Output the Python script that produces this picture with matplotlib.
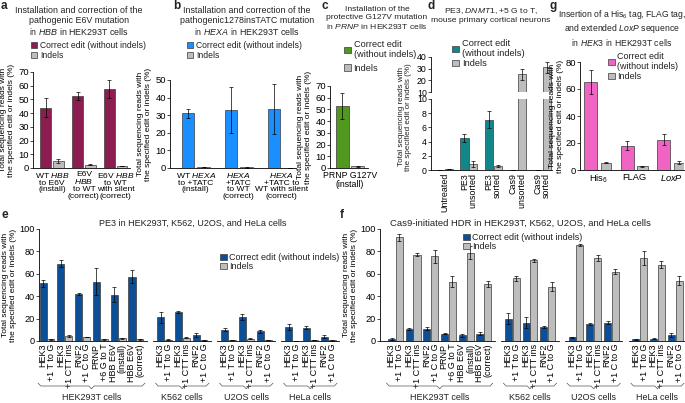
import numpy as np
import matplotlib
matplotlib.use("Agg")
import matplotlib.pyplot as plt
from matplotlib.patches import Patch

plt.rcParams["font.family"] = ["Liberation Sans", "DejaVu Sans"]
plt.rcParams["font.size"] = 6
plt.rcParams["mathtext.fontset"] = "custom"
plt.rcParams["mathtext.rm"] = "Liberation Sans"
plt.rcParams["mathtext.it"] = "Liberation Sans:italic"
plt.rcParams["mathtext.bf"] = "Liberation Sans:bold"
plt.rcParams["text.color"] = "#222222"
plt.rcParams["axes.linewidth"] = 0.6

W, H = 685, 403
GREY = "#bdbdbd"
EDGE = "#3a3a3a"
YLABEL = "Total sequencing reads with\nthe specified edit or indels (%)"

# ---- data ----
a_labels = ["WT $\\it{HBB}$\nto E6V\n(install)", "E6V\n$\\it{HBB}$\nto WT\n(correct)",
            "E6V $\\it{HBB}$\nto WT\nwith silent\n(correct)"]
a_edit = [44, 52.5, 57.5]
a_edit_err = [7, 3, 6.5]
a_indel = [5, 2.3, 1.4]
a_indel_err = [1.5, 0.4, 0.3]

b_labels = ["WT $\\it{HEXA}$\nto +TATC\n(install)", "$\\it{HEXA}$\n+TATC\nto WT\n(correct)",
            "$\\it{HEXA}$\n+TATC to\nWT with silent\n(correct)"]
b_edit = [31, 33, 33.5]
b_edit_err = [2.5, 13, 14]
b_indel = [0.7, 0.3, 0.1]
b_indel_err = [0.1, 0.1, 0.05]

c_labels = ["PRNP G127V\n(install)"]
c_edit = [53]
c_edit_err = [11]
c_indel = [1.5]
c_indel_err = [0.5]

d_labels = ["Untreated", "PE3\nunsorted", "PE3\nsorted", "Cas9\nunsorted", "Cas9\nsorted"]
d_edit = [0, 4.5, 7.1, 0, 0]
d_edit_err = [0, 0.6, 1.2, 0, 0]
d_indel = [0.15, 0.8, 0.55, 25, 31]
d_indel_err = [0.05, 0.4, 0.1, 5, 5]

g_labels = ["His$_6$", "FLAG", "$\\it{LoxP}$"]
g_edit = [65, 18, 22.5]
g_edit_err = [9, 3.5, 4]
g_indel = [5.5, 2.7, 5.5]
g_indel_err = [0.5, 0.4, 1.2]

groups = ["HEK293T cells", "K562 cells", "U2OS cells", "HeLa cells"]
hek_sites = ["HEK3\n+1 T to G", "HEK3\n+1 CTT ins", "RNF2\n+1 C to G", "PRNP\n+6 G to T",
             "HBB E6V\n(install)", "HBB E6V\n(correct)"]
other_sites = ["HEK3\n+1 T to G", "HEK3\n+1 CTT ins", "RNF2\n+1 C to G"]

e_edit = [[51.5, 69, 42, 53, 41.5, 57.5], [21, 26, 5.5], [10, 21.5, 8.5], [12.5, 12, 4]]
e_edit_err = [[3, 3, 0.5, 12, 7, 6], [5, 1, 1.5], [1.5, 2.5, 1.5], [3, 1, 1]]
e_indel = [[1.5, 4.5, 3.7, 1.5, 2.5, 1.5], [1.2, 3, 0.6], [0.8, 2, 0.8], [0.3, 0.8, 0.5]]
e_indel_err = [[0.3, 1, 0.3, 0.5, 0.5, 0.3], [0.2, 0.5, 0.2], [0.2, 0.4, 0.2], [0.1, 0.2, 0.1]]

f_edit = [[1.5, 11, 11, 6.5, 5, 6.5], [20, 16.5, 12.5], [3.5, 15, 16.5], [1.5, 2, 5.5]]
f_edit_err = [[0.8, 1, 1.5, 0.5, 1.5, 1.5], [5, 5, 1], [0.5, 1, 1.5], [0.3, 0.5, 2]]
f_indel = [[92.5, 77, 75.5, 53, 79, 51], [56, 72, 48.5], [85.5, 74, 62], [74, 68, 54]]
f_indel_err = [[3, 1.5, 5.5, 5, 6, 2.5], [2, 1.5, 4], [1, 3, 2], [6, 3, 4]]

fig = plt.figure(figsize=(6.85, 4.03), dpi=100)


def add_ax(l, t, r, b, tick_fs=6.8):
    ax = fig.add_axes([l / W, 1 - b / H, (r - l) / W, (b - t) / H])
    ax.spines["top"].set_visible(False)
    ax.spines["right"].set_visible(False)
    ax.tick_params(axis="y", length=2, width=0.5, pad=1, labelsize=tick_fs)
    ax.tick_params(axis="x", length=0, pad=2)
    return ax


def pair_bars(ax, x, edit, edit_err, indel, indel_err, color, w, off, w2=None):
    x = np.asarray(x, dtype=float)
    w2 = w if w2 is None else w2
    ax.bar(x - off, edit, w, color=color, edgecolor=EDGE, lw=0.5, zorder=2)
    ax.bar(x + off, indel, w2, color=GREY, edgecolor=EDGE, lw=0.5, zorder=2)
    ax.errorbar(x - off, edit, yerr=edit_err, fmt="none", ecolor="k",
                elinewidth=0.5, capsize=1.2, capthick=0.5, zorder=3)
    ax.errorbar(x + off, indel, yerr=indel_err, fmt="none", ecolor="k",
                elinewidth=0.5, capsize=1.2, capthick=0.5, zorder=3)


def legend(x, y, color, label, fs=6.2, gap=0.15):
    handles = [Patch(facecolor=color, edgecolor=EDGE, lw=0.5),
               Patch(facecolor=GREY, edgecolor=EDGE, lw=0.5)]
    fig.legend(handles, [label, "Indels"], loc="upper left",
               bbox_to_anchor=(x / W, 1 - y / H), frameon=False, fontsize=fs,
               handlelength=0.75, handleheight=0.75, handletextpad=0.3,
               labelspacing=gap, borderpad=0, borderaxespad=0)


def title(x, y, s, fs=6.4):
    fig.text(x / W, 1 - y / H, s, ha="center", va="top", fontsize=fs, linespacing=1.15)


def letter(x, y, s):
    fig.text(x / W, 1 - y / H, s, ha="left", va="top", fontsize=8.5, fontweight="bold")


# ---- a ----
ax = add_ax(33, 72, 130, 168)
xa = np.arange(len(a_edit))
pair_bars(ax, xa, a_edit, a_edit_err, a_indel, a_indel_err, "#8c1d50", 0.34, 0.2)
ax.set_xlim(-0.6, 2.45)
ax.set_ylim(0, 70)
ax.set_yticks(range(0, 71, 10))
ax.set_xticks(xa)
ax.set_xticklabels(a_labels, linespacing=0.95, fontsize=6.1)
ax.set_ylabel(YLABEL, fontsize=6, labelpad=2)
letter(1, 0, "a")
title(79, 6, "Installation and correction of the\npathogenic E6V mutation\nin $\\it{HBB}$ in HEK293T cells")
legend(31, 41, "#8c1d50", "Correct edit (without indels)")

# ---- b ----
ax = add_ax(170, 80, 296, 168)
xb = np.arange(len(b_edit))
pair_bars(ax, xb, b_edit, b_edit_err, b_indel, b_indel_err, "#1a8fff", 0.29, 0.18)
ax.set_xlim(-0.6, 2.33)
ax.set_ylim(0, 50)
ax.set_yticks(range(0, 51, 10))
ax.set_xticks(xb)
ax.set_xticklabels(b_labels, linespacing=0.95, fontsize=6.1)
ax.set_ylabel(YLABEL, fontsize=6, labelpad=2)
letter(173, 0, "b")
title(247, 6, "Installation and correction of the\npathogenic1278insTATC mutation\nin $\\it{HEXA}$ in HEK293T cells")
legend(187, 41, "#1a8fff", "Correct edit (without indels)")

# ---- c ----
ax = add_ax(330, 86, 368, 168)
xc = np.arange(len(c_edit))
pair_bars(ax, xc, c_edit, c_edit_err, c_indel, c_indel_err, "#4f9a1e", 0.36, 0.21)
ax.set_xlim(-0.55, 0.5)
ax.set_ylim(0, 70)
ax.set_yticks(range(0, 71, 10))
ax.set_xticks(xc)
ax.set_xticklabels(c_labels, linespacing=1.05, fontsize=6.3)
ax.set_ylabel(YLABEL, fontsize=6, labelpad=2)
letter(322, 0, "c")
title(377, 6, "Installation of the\nprotective G127V mutation\nin $\\it{PRNP}$ in HEK293T cells", fs=6.1)
legend(344, 40, "#4f9a1e", "Correct edit\n(without indels)", fs=6.6, gap=0.45)

# ---- d (broken axis) ----
xd = np.arange(len(d_edit))
ax_up = add_ax(431, 57, 552, 92, tick_fs=6.3)
ax_lo = add_ax(431, 99, 552, 170, tick_fs=6.3)
for axd in (ax_up, ax_lo):
    pair_bars(axd, xd, d_edit, d_edit_err, d_indel, d_indel_err, "#12878a", 0.33, 0.18)
    axd.set_xlim(-0.55, 4.4)
ax_up.set_ylim(10, 40)
ax_up.set_yticks([10, 20, 30, 40])
ax_up.spines["bottom"].set_visible(False)
ax_up.set_xticks([])
ax_lo.set_ylim(0, 10)
ax_lo.set_yticks(range(0, 11, 2))
ax_lo.set_xticks(xd)
ax_lo.set_xticklabels(d_labels, rotation=90, ha="center", va="top",
                      multialignment="right", linespacing=0.95, fontsize=6.4)
fig.text(405 / W, 1 - 117 / H, YLABEL, rotation=90, ha="center", va="center",
         fontsize=5.8, multialignment="center", linespacing=1.1)
letter(427, 0, "d")
title(491, 6, "PE3, $\\it{DNMT1}$, +5 G to T,\nmouse primary cortical neurons", fs=6.1)
legend(452, 39, "#12878a", "Correct edit\n(without indels)", fs=6.7, gap=0.1)

# ---- g ----
ax = add_ax(580, 62, 684, 170, tick_fs=6.8)
xg = np.arange(len(g_edit))
pair_bars(ax, xg, g_edit, g_edit_err, g_indel, g_indel_err, "#f064c4", 0.36, 0.21, w2=0.28)
ax.set_xlim(-0.5, 2.35)
ax.set_ylim(0, 80)
ax.set_yticks(range(0, 81, 20))
ax.set_xticks(xg)
ax.set_xticklabels(g_labels, fontsize=6.7)
ax.set_ylabel(YLABEL, fontsize=6, labelpad=1)
letter(550, 0, "g")
title(622, 8, "Insertion of a His$_6$ tag, FLAG tag,\nand extended $\\it{LoxP}$ sequence\nin $\\it{HEK3}$ in HEK293T cells", fs=6.2)
legend(608, 52, "#f064c4", "Correct edit\n(without indels)", fs=6.5, gap=0.1)


# ---- e and f ----
def cell_panel(l, r, xleft, edit, edit_err, indel, indel_err):
    ax = add_ax(l, 229, r, 341, tick_fs=6.6)
    ax.spines["bottom"].set_visible(False)
    starts = [0, 6.6, 10.2, 13.8]
    ticks, labels = [], []
    yb = (341 - 386) / 112
    for gi, name in enumerate(groups):
        n = len(edit[gi])
        pos = starts[gi] + np.arange(n)
        pair_bars(ax, pos, edit[gi], edit_err[gi], indel[gi], indel_err[gi],
                  "#0d4f96", 0.4, 0.22)
        ticks += list(pos)
        labels += hek_sites if n == 6 else other_sites
        x0 = xleft if gi == 0 else pos[0] - 0.62
        ax.plot([x0, pos[-1] + 0.62], [0, 0], color="k", lw=0.6, clip_on=False, zorder=4)
        # curly brace under the group
        b0, b1 = pos[0] - 0.5, pos[-1] + 0.5
        bm = (b0 + b1) / 2
        ax.plot([b0, b0 + 0.15, bm - 0.15, bm, bm + 0.15, b1 - 0.15, b1],
                [yb + 0.025, yb, yb, yb - 0.025, yb, yb, yb + 0.025],
                color="#555555", lw=0.5, transform=ax.get_xaxis_transform(), clip_on=False)
        ax.text(bm, (341 - 397) / 112, name, ha="center", va="center", fontsize=6.5,
                transform=ax.get_xaxis_transform())
    ax.set_xlim(xleft, 16.3)
    ax.set_ylim(0, 100)
    ax.set_yticks(range(0, 101, 20))
    ax.set_xticks(ticks)
    ax.set_xticklabels(labels, rotation=90, ha="center", va="top",
                       multialignment="right", linespacing=0.95, fontsize=6.5)
    ax.set_ylabel(YLABEL, fontsize=6, labelpad=2)
    return ax


cell_panel(39, 337, -0.45, e_edit, e_edit_err, e_indel, e_indel_err)
letter(1, 209, "e")
fig.text(193 / W, 1 - 219 / H, "PE3 in HEK293T, K562, U2OS, and HeLa cells", ha="center",
         va="top", fontsize=6.5)
legend(220, 253, "#0d4f96", "Correct edit (without indels)", fs=6.5, gap=0.0)

cell_panel(380, 684, -0.87, f_edit, f_edit_err, f_indel, f_indel_err)
letter(340, 209, "f")
fig.text(520 / W, 1 - 219 / H, "Cas9-initiated HDR in HEK293T, K562, U2OS, and HeLa cells",
         ha="center", va="top", fontsize=6.8)
legend(463, 233, "#0d4f96", "Correct edit (without indels)", fs=6.5, gap=0.0)

fig.savefig("out.png", dpi=100)
